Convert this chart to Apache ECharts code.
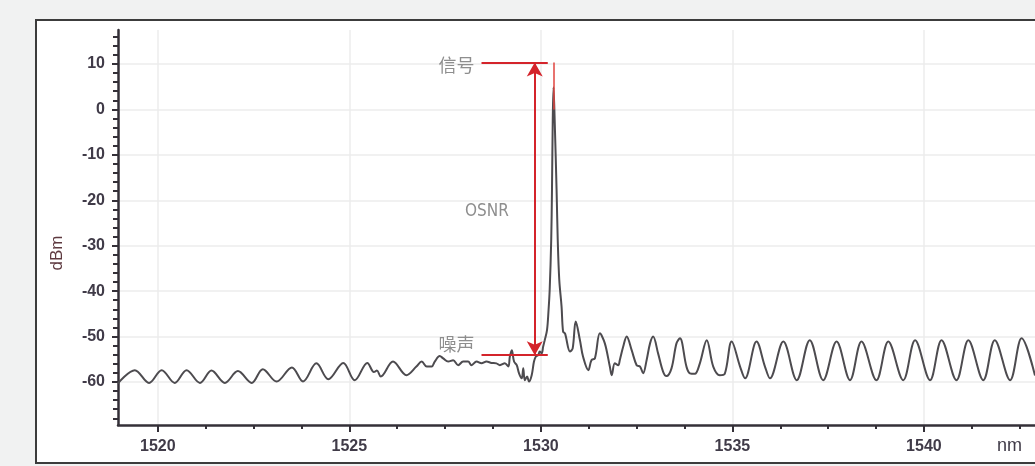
<!DOCTYPE html>
<html><head><meta charset="utf-8">
<script src="https://cdn.jsdelivr.net/npm/echarts@6/dist/echarts.min.js"></script>
<style>
html,body{margin:0;padding:0;background:#f1f2f2;}
body{width:1035px;height:466px;overflow:hidden;position:relative;}
#frame{position:absolute;left:35px;top:19px;width:1100px;height:445px;box-sizing:border-box;border:2px solid #3c3c3c;background:#fff;}
#chart{position:absolute;left:0;top:0;width:1035px;height:466px;}
</style></head><body>
<div id="frame"></div><div id="chart"></div>
<script>
// ---- data ----
const wavelengthRange = [1518.96, 1542.9];   // nm
const powerRange = [-69.47, 17.48];          // dBm
const xMajorTicks = [1520, 1525, 1530, 1535, 1540];
const xMinorTicks = [1521.25, 1522.5, 1523.75, 1526.25, 1527.5, 1528.75, 1531.25, 1532.5, 1533.75, 1536.25, 1537.5, 1538.75, 1541.25, 1542.5];
const yMajorTicks = [-60, -50, -40, -30, -20, -10, 0, 10];
const yMinorTicks = [-68, -66, -64, -62, -58, -56, -54, -52, -48, -46, -44, -42, -38, -36, -34, -32, -28, -26, -24, -22, -18, -16, -14, -12, -8, -6, -4, -2, 2, 4, 6, 8, 12, 14, 16];
const xAxisUnit = 'nm';
const yAxisName = 'dBm';
const spectrum = [
 [1518.96,-60.3],[1519.40,-57.4],[1519.77,-60.2],[1520.10,-57.4],[1520.44,-60.2],[1520.75,-57.4],[1521.10,-60.2],[1521.40,-57.5],
 [1521.75,-60.2],[1522.09,-57.6],[1522.45,-60.2],[1522.74,-57.2],[1523.10,-59.9],[1523.50,-56.8],[1523.79,-59.9],[1524.14,-55.9],
 [1524.45,-59.4],[1524.84,-55.8],[1525.14,-59.6],[1525.47,-55.8],[1525.64,-57.8],[1525.72,-57.5],[1525.82,-58.8],[1526.14,-55.5],
 [1526.49,-58.5],[1526.75,-56.6],[1526.89,-55.5],[1527.02,-56.6],[1527.15,-56.6],[1527.23,-55.5],[1527.36,-54.3],[1527.45,-54.8],
 [1527.58,-55.5],[1527.71,-55.2],[1527.84,-56.3],[1527.97,-55.5],[1528.10,-55.5],[1528.19,-56.3],[1528.32,-55.5],[1528.45,-55.9],
 [1528.58,-55.5],[1528.71,-55.8],[1528.84,-55.9],[1528.93,-56.3],[1529.06,-55.9],[1529.15,-56.6],[1529.19,-54.4],[1529.24,-53.0],
 [1529.30,-55.5],[1529.37,-56.3],[1529.43,-58.1],[1529.50,-59.2],[1529.54,-57.0],[1529.58,-59.6],[1529.64,-58.8],[1529.69,-59.9],
 [1529.76,-58.5],[1529.82,-55.5],[1529.87,-54.4],[1529.93,-54.1],[1529.97,-53.3],[1530.02,-53.7],[1530.06,-52.2],[1530.10,-50.8],
 [1530.16,-48.6],[1530.20,-44.2],[1530.23,-39.7],[1530.27,-28.7],[1530.29,-17.7],[1530.31,-2.3],[1530.33,4.9],[1530.36,-2.3],
 [1530.41,-17.7],[1530.44,-28.7],[1530.48,-37.5],[1530.54,-43.4],[1530.58,-48.9],[1530.63,-49.3],[1530.76,-53.3],[1530.83,-52.6],
 [1530.91,-46.7],[1531.02,-50.8],[1531.10,-54.4],[1531.24,-57.4],[1531.32,-55.2],[1531.41,-54.8],[1531.54,-49.3],[1531.67,-51.5],
 [1531.80,-56.6],[1531.85,-58.5],[1531.93,-55.9],[1532.02,-56.3],[1532.06,-55.2],[1532.15,-52.2],[1532.24,-50.0],[1532.37,-53.0],
 [1532.50,-56.3],[1532.59,-56.6],[1532.67,-58.1],[1532.76,-55.2],[1532.85,-51.5],[1532.93,-50.0],[1533.06,-53.7],[1533.19,-57.7],
 [1533.28,-58.7],[1533.41,-57.0],[1533.54,-51.5],[1533.63,-50.4],[1533.80,-56.6],[1533.89,-58.1],[1534.02,-58.2],[1534.15,-55.9],
 [1534.33,-50.8],[1534.50,-56.6],[1534.67,-58.5],[1534.80,-58.2],[1534.98,-51.1],[1535.20,-56.6],[1535.33,-59.2],[1535.63,-51.1],
 [1535.85,-56.6],[1535.98,-59.2],[1536.33,-51.1],[1536.68,-59.6],[1537.02,-50.8],[1537.37,-59.6],[1537.72,-51.1],[1538.07,-59.6],
 [1538.37,-51.1],[1538.76,-59.6],[1539.07,-51.1],[1539.46,-59.6],[1539.77,-50.8],[1540.16,-59.6],[1540.46,-50.8],[1540.85,-59.6],
 [1541.16,-50.8],[1541.55,-59.6],[1541.85,-50.8],[1542.25,-59.6],[1542.55,-50.4],[1542.90,-58.6]
];
// annotation values (data units)
const signalLevel = 10.3;
const noiseLevel = -54.1;
const peakWavelength = 1530.33;
const peakMarkBottom = 0;
const markerFrom = 1528.45;
const markerTo = 1530.18;
const arrowWavelength = 1529.84;
const annotationTexts = [
  {name: '信号', coord: [1527.80, 9.8]},
  {name: '噪声', coord: [1527.80, -51.6]},
  {name: 'OSNR', coord: [1528.59, -22.4]}
];

const RED = '#d4242b';
const AXIS = '#343038';
const LABEL = '#403b48';
const SPLIT = '#ececec';

const chart = echarts.init(document.getElementById('chart'), null, {renderer: 'canvas'});
const labelFont = {fontFamily: 'Liberation Sans, Arial, sans-serif', fontSize: 16, fontWeight: 'bold', color: LABEL,
                   formatter: v => String(v)};

chart.setOption({
  backgroundColor: 'transparent',
  animation: false,
  grid: {left: 118, top: 30, right: 0, bottom: 41, containLabel: false},
  xAxis: [{
    type: 'value', position: 'bottom', min: wavelengthRange[0], max: wavelengthRange[1],
    axisLine: {show: true, onZero: false, lineStyle: {color: AXIS, width: 2.5}},
    axisTick: {show: true, customValues: xMajorTicks, length: 7, lineStyle: {color: AXIS, width: 2}},
    axisLabel: Object.assign({show: true, customValues: xMajorTicks, margin: 14}, labelFont),
    splitLine: {show: true, lineStyle: {color: SPLIT, width: 1.5}}
  }, {
    type: 'value', position: 'bottom', min: wavelengthRange[0], max: wavelengthRange[1],
    axisLine: {show: false, onZero: false},
    axisTick: {show: true, customValues: xMinorTicks, length: 4, lineStyle: {color: AXIS, width: 2}},
    axisLabel: {show: false},
    splitLine: {show: false}
  }],
  yAxis: [{
    type: 'value', position: 'left', min: powerRange[0], max: powerRange[1], splitNumber: 9,
    name: yAxisName, nameLocation: 'middle', nameGap: 52,
    nameTextStyle: {fontFamily: 'Liberation Sans, Arial, sans-serif', fontSize: 17, color: '#5e3a40', padding: [0, 51, 0, 0]},
    axisLine: {show: true, onZero: false, lineStyle: {color: AXIS, width: 2.5}},
    axisTick: {show: true, customValues: yMajorTicks, length: 6, lineStyle: {color: AXIS, width: 2}},
    axisLabel: Object.assign({show: true, customValues: yMajorTicks, margin: 13}, labelFont),
    splitLine: {show: true, lineStyle: {color: SPLIT, width: 1.5}}
  }, {
    type: 'value', position: 'left', min: powerRange[0], max: powerRange[1],
    axisLine: {show: false, onZero: false},
    axisTick: {show: true, customValues: yMinorTicks, length: 5, lineStyle: {color: AXIS, width: 2}},
    axisLabel: {show: false},
    splitLine: {show: false}
  }],
  graphic: [{
    type: 'text', left: 997, top: 437,
    style: {text: xAxisUnit, fontFamily: 'Liberation Sans, Arial, sans-serif', fontSize: 18, fill: LABEL}
  }],
  series: [{
    type: 'line', xAxisIndex: 0, yAxisIndex: 0,
    data: spectrum, showSymbol: false, symbol: 'none', smooth: 0.35,
    lineStyle: {color: '#4d4b4f', width: 2}, z: 3,
    markLine: {
      silent: true, animation: false, symbol: ['none', 'none'],
      label: {show: false},
      lineStyle: {color: RED, width: 2, type: 'solid'},
      emphasis: {disabled: true},
      data: [
        [{coord: [markerFrom, signalLevel]}, {coord: [markerTo, signalLevel]}],
        [{coord: [markerFrom, noiseLevel]}, {coord: [markerTo, noiseLevel]}],
        [{coord: [arrowWavelength, signalLevel], symbol: 'arrow', symbolSize: [12, 14]},
         {coord: [arrowWavelength, noiseLevel], symbol: 'arrow', symbolSize: [12, 14]}],
        [{coord: [peakWavelength, signalLevel], lineStyle: {color: '#e0453f', width: 1.5}},
         {coord: [peakWavelength, peakMarkBottom]}]
      ]
    },
    markPoint: {
      silent: true, animation: false, symbol: 'circle', symbolSize: 1,
      itemStyle: {color: 'rgba(0,0,0,0)'},
      label: {show: true, position: 'inside', formatter: p => p.name, color: '#8e8e8e', fontSize: 18,
              fontFamily: 'Noto Sans CJK SC, sans-serif'},
      data: annotationTexts.map(t => t.name === 'OSNR'
        ? Object.assign({}, t, {label: {fontFamily: 'Liberation Sans Narrow, DejaVu Sans Condensed, sans-serif', fontSize: 17, color: '#8e8e8e'}})
        : t)
    }
  }]
});
</script>
</body></html>
